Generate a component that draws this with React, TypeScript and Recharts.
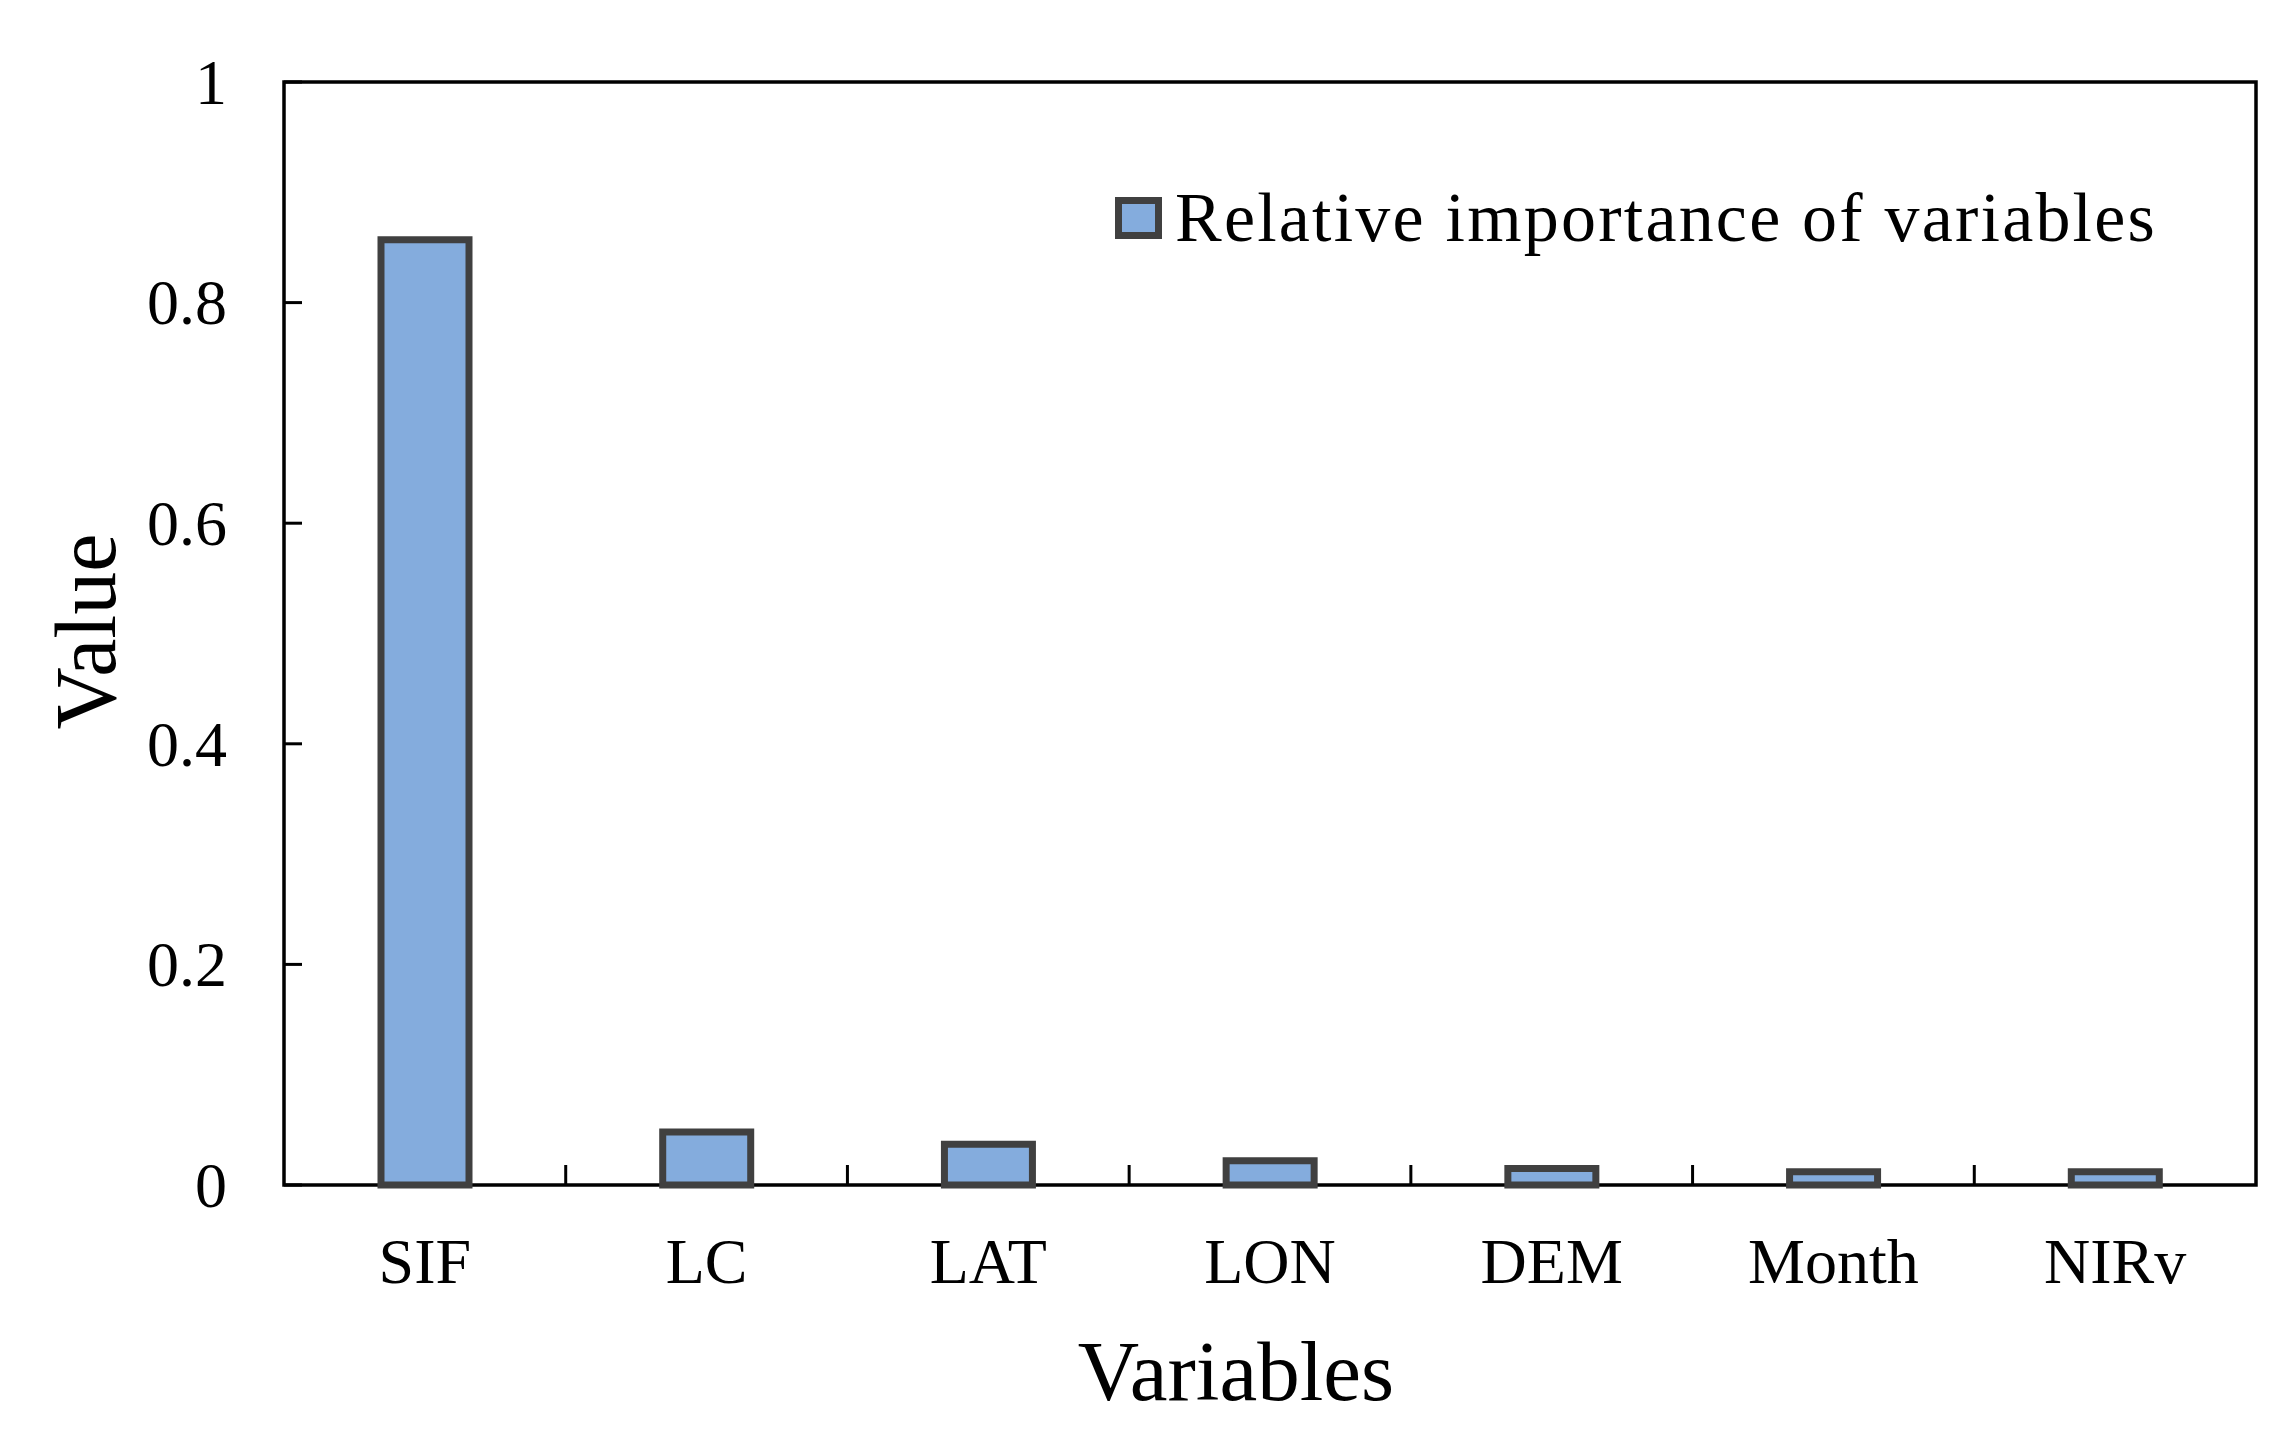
import React from 'react';
import {
  BarChart,
  Bar,
  XAxis,
  YAxis,
  Legend,
  ReferenceArea,
} from 'recharts';

const categories = ['SIF', 'LC', 'LAT', 'LON', 'DEM', 'Month', 'NIRv'];
const importance = [0.857, 0.048, 0.037, 0.022, 0.015, 0.012, 0.012];
const yTicks = [0, 0.2, 0.4, 0.6, 0.8, 1];
const seriesName = 'Relative importance of variables';

const data = categories.map((name, i) => ({ name, value: importance[i] }));

const FONT = '"Liberation Serif", "Times New Roman", serif';
const BAR_FILL = '#84acdd';
const BAR_STROKE = '#404040';

const WIDTH = 2291;
const HEIGHT = 1445;
const PLOT_LEFT = 284;
const PLOT_RIGHT = 2256;
const PLOT_TOP = 82;
const PLOT_BOTTOM = 1185;
const BAND_HALF = (PLOT_RIGHT - PLOT_LEFT) / categories.length / 2;

// x tick: label at band centre, small inward tick at the band's right edge
const XTick = (props: any) => {
  const { x, y, payload, index } = props;
  const half = payload && payload.offset ? payload.offset : BAND_HALF;
  return (
    <g>
      {index < categories.length - 1 && (
        <line
          x1={x + half}
          x2={x + half}
          y1={y}
          y2={y - 20}
          stroke="#000"
          strokeWidth={3}
        />
      )}
      <text
        x={x}
        y={y + 98}
        textAnchor="middle"
        fontFamily={FONT}
        fontSize={64}
        fill="#000"
      >
        {payload.value}
      </text>
    </g>
  );
};

const YTick = (props: any) => {
  const { x, y, payload } = props;
  return (
    <g>
      <line x1={x} x2={x + 18} y1={y} y2={y} stroke="#000" strokeWidth={3} />
      <text
        x={x - 57}
        y={y}
        dy="0.34em"
        textAnchor="end"
        fontFamily={FONT}
        fontSize={64}
        fill="#000"
      >
        {payload.value}
      </text>
    </g>
  );
};

const LegendContent = () => (
  <div
    style={{
      display: 'flex',
      alignItems: 'center',
      fontFamily: FONT,
      fontSize: 70,
      lineHeight: 1,
      letterSpacing: 2.2,
      whiteSpace: 'nowrap',
      color: '#000',
    }}
  >
    <span
      style={{
        display: 'inline-block',
        boxSizing: 'border-box',
        width: 47,
        height: 42,
        background: BAR_FILL,
        border: `7px solid ${BAR_STROKE}`,
        marginRight: 13,
      }}
    />
    <span>{seriesName}</span>
  </div>
);

const App: React.FC = () => {
  return (
    <div style={{ position: 'absolute', left: 0, top: 0, background: '#fff' }}>
      <BarChart
        width={WIDTH}
        height={HEIGHT}
        data={data}
        margin={{ top: PLOT_TOP, right: WIDTH - PLOT_RIGHT, bottom: 0, left: 0 }}
        barCategoryGap={0}
      >
        <ReferenceArea
          y1={0}
          y2={1}
          fill="none"
          fillOpacity={0}
          stroke="#000"
          strokeWidth={3.5}
          ifOverflow="visible"
        />
        <XAxis
          dataKey="name"
          height={HEIGHT - PLOT_BOTTOM}
          axisLine={false}
          tickLine={false}
          tickSize={0}
          tickMargin={0}
          interval={0}
          tick={<XTick />}
          label={(props: any) => {
            const vb = props.viewBox || { x: PLOT_LEFT, y: PLOT_BOTTOM, width: PLOT_RIGHT - PLOT_LEFT };
            return (
              <text
                x={vb.x + vb.width / 2 - 34}
                y={vb.y + 215}
                textAnchor="middle"
                fontFamily={FONT}
                fontSize={85}
                fill="#000"
              >
                Variables
              </text>
            );
          }}
        />
        <YAxis
          width={PLOT_LEFT}
          domain={[0, 1]}
          ticks={yTicks}
          axisLine={false}
          tickLine={false}
          tickSize={0}
          tickMargin={0}
          interval={0}
          tick={<YTick />}
          label={(props: any) => {
            const vb = props.viewBox || { x: 0, y: PLOT_TOP, height: PLOT_BOTTOM - PLOT_TOP };
            const cx = vb.x + 115;
            const cy = vb.y + vb.height / 2 - 2;
            return (
              <text
                x={cx}
                y={cy}
                transform={`rotate(-90, ${cx}, ${cy})`}
                textAnchor="middle"
                fontFamily={FONT}
                fontSize={86}
                fill="#000"
              >
                Value
              </text>
            );
          }}
        />
        <Legend
          layout="horizontal"
          verticalAlign="middle"
          align="center"
          content={<LegendContent />}
          wrapperStyle={{ left: 1115, top: 183, width: 'auto' }}
        />
        <Bar
          dataKey="value"
          name={seriesName}
          fill={BAR_FILL}
          stroke={BAR_STROKE}
          strokeWidth={7}
          barSize={88}
          isAnimationActive={false}
        />
      </BarChart>
    </div>
  );
};

export default App;
